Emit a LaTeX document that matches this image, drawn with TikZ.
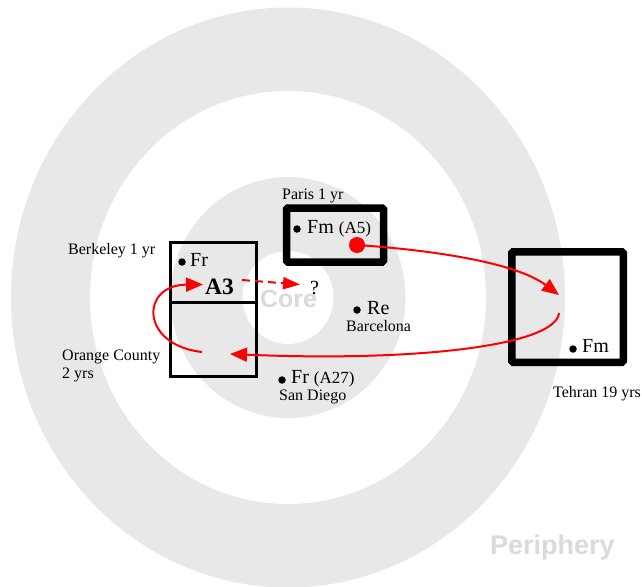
\documentclass[tikz,border=0pt]{standalone}
\usepackage{fontspec}
\setmainfont{Liberation Serif}
\setsansfont{Liberation Sans}
\usetikzlibrary{arrows.meta}
\definecolor{ring}{HTML}{E8E8E8}
\definecolor{ringtext}{HTML}{DADADA}
\definecolor{arrred}{HTML}{FF0000}
\begin{document}
\begin{tikzpicture}[x=1pt,y=-1pt,
 lbl/.style={font=\fontsize{16}{18}\selectfont, inner sep=0pt, anchor=base west},
 big/.style={font=\fontsize{20}{22}\selectfont, inner sep=0pt, anchor=base west},
 dotm/.style={circle, fill=black, inner sep=0pt, minimum size=7.5pt},
 thinbox/.style={draw, line width=3pt, inner sep=0pt},
 thickbox/.style={draw, line width=7.5pt, rounded corners=1.5pt, inner sep=0pt},
 redarr/.style={draw=arrred, line width=2pt, -{Triangle[length=17pt,width=14pt]}},
 ringlbl/.style={font=\sffamily\bfseries, text=ringtext, inner sep=0pt},
]
\useasboundingbox (0,0) rectangle (642,586);
\fill[white] (0,0) rectangle (642,586);
% rings
\fill[ring] (288,297.5) ellipse [x radius=277, y radius=290];
\fill[white] (288,297.5) ellipse [x radius=198, y radius=206.5];
\fill[ring] (288,297.5) ellipse [x radius=117.5, y radius=120.5];
\fill[white] (288,297.5) ellipse [x radius=45.5, y radius=46.5];
\node[ringlbl, font=\sffamily\bfseries\fontsize{25}{25}\selectfont, anchor=base] (core) at (288.5,307) {Core};
\node[ringlbl, font=\sffamily\bfseries\fontsize{27}{27}\selectfont, anchor=base west] (periphery) at (490,554) {Periphery};
% boxes
\node[thinbox, minimum width=86pt, minimum height=134pt] (berk) at (213.5,309.5) {};
\draw[line width=3pt] (berk.west |- 0,302) coordinate (divl) -- (berk.east |- 0,302) coordinate (divr);
\node[thickbox, minimum width=97pt, minimum height=54pt] (paris) at (335,235) {};
\node[thickbox, minimum width=111.5pt, minimum height=110.5pt] (tehran) at (567.5,307) {};
% labels
\node[lbl] (parislbl) at (282,199) {Paris 1 yr};
\node[lbl] (berklbl) at (68,254) {Berkeley 1 yr};
\node[lbl] (orange) at (62,360) {Orange County};
\node[lbl] (orangeyrs) at (62,378) {2 yrs};
\node[lbl] (tehranlbl) at (553,397) {Tehran 19 yrs};
\node[lbl] (barcelona) at (346,331) {Barcelona};
\node[lbl] (sandiego) at (279,400) {San Diego};
% bullets and names
\node[dotm] (d1) at (182,262) {};
\node[big] (fr1) at (190,266) {Fr};
\node[big, font=\bfseries\fontsize{23.5}{25}\selectfont] (a3) at (205,294) {A3};
\node[big] (q) at (310,294) {?};
\node[dotm] (d2) at (297,229) {};
\node[big] (fm1) at (307,233) {Fm {\fontsize{17}{19}\selectfont(A5)}};
\node[dotm] (d3) at (357,310) {};
\node[big] (re) at (367,314) {Re};
\node[dotm] (d4) at (282,380) {};
\node[big] (fr2) at (291,383) {Fr {\fontsize{17}{19}\selectfont(A27)}};
\node[dotm] (d5) at (573,349) {};
\node[big] (fm2) at (582,352) {Fm};
% connector endpoints
\coordinate (a3s) at (242,280);
\coordinate (qt) at (300,284.5);
\coordinate (rdc) at (357,245);
\coordinate (tin) at (559,295);
\coordinate (tout) at (559,313);
\coordinate (ocin) at (230,354);
\coordinate (ocout) at (202,352);
\coordinate (a3in) at (203,284.5);
% connectors
\draw[redarr, dash pattern=on 8pt off 5pt, -{Triangle[length=17pt,width=12pt]}] (a3s) -- (qt);
\draw[redarr] (rdc) .. controls (430,250) and (515,262) .. (tin);
\draw[redarr] (tout) .. controls (556,345) and (420,362) .. (ocin);
\draw[redarr] (ocout) .. controls (140,345) and (140,285) .. (a3in);
\node[circle, fill=arrred, inner sep=0pt, minimum size=16pt] (reddot) at (rdc) {};
\end{tikzpicture}
\end{document}
